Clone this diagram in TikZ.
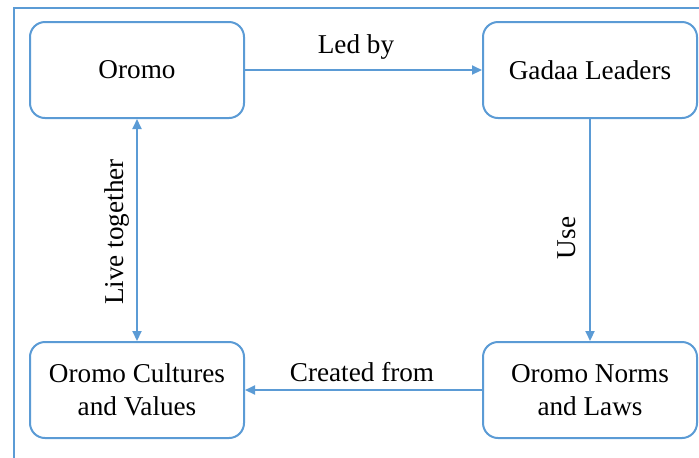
\documentclass[tikz,border=0pt]{standalone}
\usepackage{fontspec}
\setmainfont{Liberation Serif}
\usetikzlibrary{arrows.meta}
\definecolor{lineblue}{HTML}{5B9BD5}
\begin{document}
\begin{tikzpicture}[x=0.5pt,y=-0.5pt,
  font=\fontsize{13.6}{16.5}\selectfont,
  box/.style={draw=lineblue,line width=1pt,rounded corners=7.5pt,
    minimum width=107pt,minimum height=48pt,align=center,inner sep=0pt},
  conn/.style={draw=lineblue,line width=1pt,-{Triangle[length=5pt,width=4.5pt]}},
  lbl/.style={inner sep=1pt}]
\useasboundingbox (0,0) rectangle (699,457);
% outer frame
\draw[lineblue,line width=1pt] (14,470) -- (14,8) -- (710,8);
% boxes
\node[box] (oromo) at (137,70) {Oromo};
\node[box] (gadaa) at (590,70) {Gadaa Leaders};
\node[box] (cult) at (137,390) {Oromo Cultures\\and Values};
\node[box] (norms) at (590,390) {Oromo Norms\\and Laws};
% connectors
\draw[conn] (oromo) -- (gadaa);
\draw[conn,{Triangle[length=5pt,width=4.5pt]}-{Triangle[length=5pt,width=4.5pt]}] (oromo) -- (cult);
\draw[conn] (gadaa) -- (norms);
\draw[conn] (norms) -- (cult);
% labels
\node[lbl] (l1) at (356,47) {Led by};
\node[lbl,rotate=90] (l2) at (117,232) {Live together};
\node[lbl,rotate=90] (l3) at (567,238) {Use};
\node[lbl] (l4) at (362,372) {Created from};
\end{tikzpicture}
\end{document}
